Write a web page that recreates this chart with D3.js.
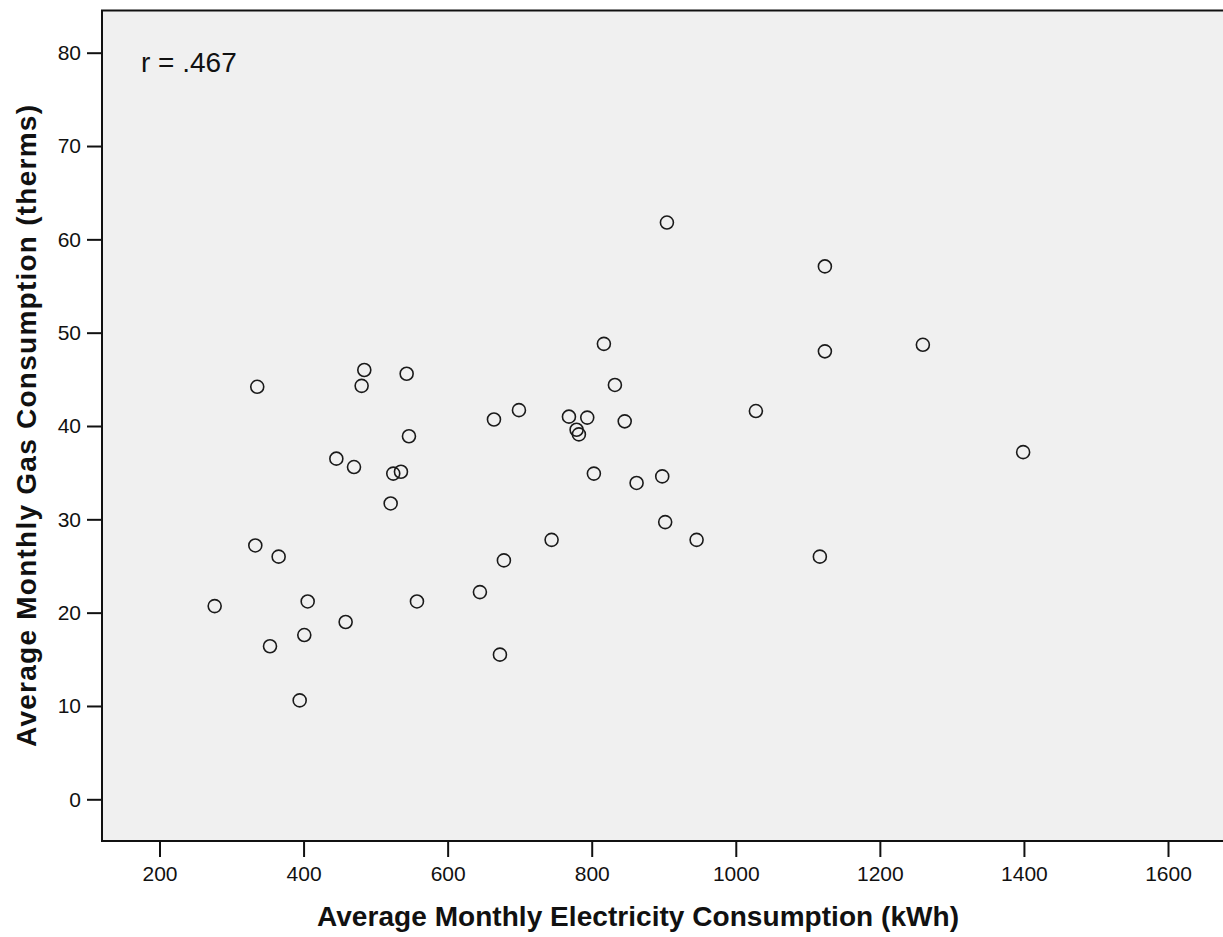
<!DOCTYPE html>
<html>
<head>
<meta charset="utf-8">
<script src="https://cdn.jsdelivr.net/npm/d3@7"></script>
<style>
  body { margin: 0; background: #fff; }
  svg { display: block; font-family: "Liberation Sans", Arial, sans-serif; }
</style>
</head>
<body>
<div id="chart"></div>
<script>
// electricity (kWh) and gas (therms) per household
const electricity = [
  816.9, 335.7, 484.3, 480.6, 543.1, 832.2, 664.3, 699, 768.4, 793.8, 779,
  782.2, 845.8, 546.3, 445.5, 904.4, 1123.7, 1123.7, 1259.7, 1027.9, 1398.9,
  470, 524.5, 535.2, 520.9, 803, 333, 365.4, 276.6, 405.7, 458.4, 401, 353.4,
  394.6, 557.4, 644.8, 678.1, 744.3, 672.6, 862.3, 897.9, 902, 945.6, 1116.7
];
const gas = [
  48.8, 44.2, 46.0, 44.3, 45.6, 44.4, 40.7, 41.7, 41.0, 40.9, 39.6,
  39.1, 40.5, 38.9, 36.5, 61.8, 57.1, 48.0, 48.7, 41.6, 37.2,
  35.6, 34.9, 35.1, 31.7, 34.9, 27.2, 26.0, 20.7, 21.2, 19.0, 17.6, 16.4,
  10.6, 21.2, 22.2, 25.6, 27.8, 15.5, 33.9, 34.6, 29.7, 27.8, 26.0
];
const xTicks = [200, 400, 600, 800, 1000, 1200, 1400, 1600];
const yTicks = [0, 10, 20, 30, 40, 50, 60, 70, 80];
const rLabel = "r = .467";

const width = 1223, height = 937;
const svg = d3.select("#chart").append("svg")
  .attr("width", width)
  .attr("height", height);

// plot frame (right edge runs off the picture)
const plotLeft = 102, plotTop = 10.5, plotBottom = 841, plotRight = 1240;

const x = d3.scaleLinear().domain([200, 1600]).range([159.5, 1168]);
const y = d3.scaleLinear().domain([0, 80]).range([799.3, 52.7]);

svg.append("rect")
  .attr("x", plotLeft).attr("y", plotTop)
  .attr("width", plotRight - plotLeft).attr("height", plotBottom - plotTop)
  .attr("fill", "#f0f0f0")
  .attr("stroke", "#111")
  .attr("stroke-width", 2);

// y axis
const yAxis = svg.append("g")
  .attr("transform", `translate(${plotLeft},0)`)
  .call(d3.axisLeft(y).tickValues(yTicks).tickFormat(d3.format("d"))
    .tickSize(15).tickPadding(6).tickSizeOuter(0));
yAxis.select(".domain").remove();

// x axis
const xAxis = svg.append("g")
  .attr("transform", `translate(0,${plotBottom})`)
  .call(d3.axisBottom(x).tickValues(xTicks).tickFormat(d3.format("d"))
    .tickSize(16).tickPadding(9).tickSizeOuter(0));
xAxis.select(".domain").remove();

svg.selectAll(".tick line").attr("stroke", "#111").attr("stroke-width", 2);
svg.selectAll(".tick text")
  .attr("fill", "#111")
  .style("font-size", "21px")
  .style("font-family", "'Liberation Sans', Arial, sans-serif");

// points
svg.append("g")
  .selectAll("circle")
  .data(electricity.map((e, i) => ({ e: e, g: gas[i] })))
  .enter().append("circle")
  .attr("cx", d => x(d.e))
  .attr("cy", d => y(d.g))
  .attr("r", 6.5)
  .attr("fill", "none")
  .attr("stroke", "#1a1a1a")
  .attr("stroke-width", 1.6);

// correlation label
svg.append("text")
  .attr("x", 141)
  .attr("y", 71.5)
  .style("font-size", "28px")
  .attr("fill", "#111")
  .text(rLabel);

// axis titles
svg.append("text")
  .attr("x", 638)
  .attr("y", 926)
  .attr("text-anchor", "middle")
  .attr("textLength", 642)
  .attr("lengthAdjust", "spacing")
  .style("font-size", "28px")
  .style("font-weight", "bold")
  .attr("fill", "#111")
  .text("Average Monthly Electricity Consumption (kWh)");

svg.append("text")
  .attr("transform", "translate(36,426) rotate(-90)")
  .attr("text-anchor", "middle")
  .attr("textLength", 642)
  .attr("lengthAdjust", "spacing")
  .style("font-size", "28px")
  .style("font-weight", "bold")
  .attr("fill", "#111")
  .text("Average Monthly Gas Consumption (therms)");
</script>
</body>
</html>
